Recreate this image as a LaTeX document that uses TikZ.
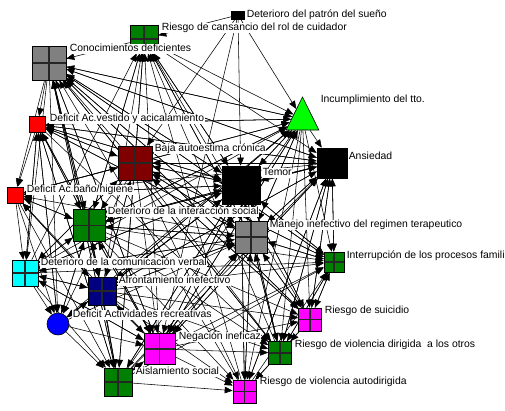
\documentclass[tikz,border=0pt]{standalone}
\usepackage{fontspec}
\setmainfont{Liberation Sans}
\usetikzlibrary{arrows.meta,shapes.geometric}
\pgfdeclarelayer{bg}
\pgfdeclarelayer{edges}
\pgfsetlayers{bg,edges,main}
\definecolor{pgray}{HTML}{808080}
\definecolor{pgreen}{HTML}{008000}
\definecolor{pdred}{HTML}{800000}
\definecolor{pred}{HTML}{FF0000}
\definecolor{plime}{HTML}{00FF00}
\definecolor{pcyan}{HTML}{00FFFF}
\definecolor{pnavy}{HTML}{000080}
\definecolor{pblue}{HTML}{0000FF}
\definecolor{pmag}{HTML}{FF00FF}
\begin{document}
\begin{tikzpicture}[x=1pt,y=-1pt,font=\fontsize{10.4}{12}\selectfont,
  sq/.style={rectangle,draw=black,line width=0.6pt,inner sep=0pt,minimum size=#1},
  quad/.style={path picture={\draw[line width=1.1pt,black!85]
     (path picture bounding box.north)--(path picture bounding box.south)
     (path picture bounding box.west)--(path picture bounding box.east);}},
  lbl/.style={anchor=west,fill=white,inner sep=0.6pt,text height=7.5pt,text depth=2pt},
  arc/.style={-{Triangle[length=8pt,width=6.5pt]},line width=0.55pt}]
\useasboundingbox (0,0) rectangle (505,410);
\begin{pgfonlayer}{bg}
\fill[white] (0,0) rectangle (505,410);
\end{pgfonlayer}
% nodes
\node[rectangle,draw=black,fill=black,minimum width=13pt,minimum height=8pt,inner sep=0pt] (a) at (238,15) {};
\node[sq=28pt,quad,fill=pgreen] (b) at (144,39) {};
\node[sq=34pt,quad,fill=pgray] (c) at (49,63) {};
\node[sq=16pt,fill=pred] (d) at (37.5,124.5) {};
\node[sq=34pt,quad,fill=pdred] (e) at (135,163) {};
\node[sq=16pt,fill=pred] (f) at (15,195) {};
\node[sq=38pt,fill=black] (g) at (241,185) {};
\begin{scope}[shift={(302.5,119)}]
\node[regular polygon,regular polygon sides=3,minimum size=44pt,inner sep=0pt,draw=black,line width=0.6pt,fill=plime,xscale=0.86,transform shape] (h) at (0,0) {};
\end{scope}
\node[sq=30pt,fill=black] (i) at (332,163) {};
\node[sq=32pt,quad,fill=pgreen] (j) at (89,225.5) {};
\node[sq=32pt,quad,fill=pgray] (k) at (251,237) {};
\node[sq=20pt,quad,fill=pgreen] (l) at (334,262) {};
\node[sq=26pt,quad,fill=pcyan] (m) at (25,273) {};
\node[sq=28pt,quad,fill=pnavy] (n) at (102,291) {};
\node[circle,draw=black,line width=0.6pt,fill=pblue,minimum size=22pt,inner sep=0pt] (o) at (58,324) {};
\node[sq=31pt,quad,fill=pmag] (p) at (159.5,349) {};
\node[sq=23pt,quad,fill=pmag] (q) at (310,319.5) {};
\node[sq=23pt,quad,fill=pgreen] (r) at (280,353) {};
\node[sq=28pt,quad,fill=pgreen] (s) at (118,382) {};
\node[sq=23pt,quad,fill=pmag] (t) at (244.5,391.5) {};
% edges
\begin{pgfonlayer}{edges}
\foreach \t/\srcs in {
  b/{a,e,g,j,k,n,p,q,r,s,t,m},
  c/{b,e,g,h,i,j,k,l,n,p,q,r,t,s},
  d/{c,e,g,h,i,j,k,m,o,p,s},
  e/{a,d,g,i,k,l,m,n,q,f},
  f/{c,d,e,g,j,k,n,p,i},
  g/{a,b,c,d,e,f,h,i,j,k,l,m,n,o,p,q,r,s,t},
  h/{a,b,c,d,e,f,g,j,k,m,n,o,p,s},
  i/{h,b,c,d,e,g,j,k,l,n,p,q,r,t,s},
  j/{c,d,f,e,g,h,i,k,m,n,o,p,s,b},
  k/{b,c,d,e,g,h,i,j,l,m,n,o,p,q,r,s,t},
  l/{c,e,g,h,i,j,k,m,n,p,q,r,s,t},
  m/{c,d,f,e,g,j,n,k,p},
  n/{c,e,g,h,i,j,k,m,o,p,f},
  o/{m,d,f,j,n,c,e,g},
  p/{a,e,g,h,i,j,k,m,n,o,c,d,s},
  q/{g,h,i,k,l,e,j,n,p,c},
  r/{g,h,i,k,l,q,e,j,n,p,c,d},
  s/{o,m,j,n,p,e,g,d,f,c},
  t/{p,s,r,k,g,i,h,n,j,e,q}}{
  \foreach \s in \srcs {\draw[arc] (\s) -- (\t);}
}
\end{pgfonlayer}
% labels
\node[lbl] (la) at (246,15) {Deterioro del patrón del sueño};
\node[lbl] (lb) at (161,28) {Riesgo de cansancio del rol de cuidador};
\node[lbl] (lc) at (69,49) {Conocimientos deficientes};
\node[lbl] (ld) at (49,119) {Deficit Ac.vestido y acicalamiento};
\node[lbl] (le) at (154,149) {Baja autoestima crónica};
\node[lbl] (lf) at (26,190) {Deficit Ac.baño/higiene};
\node[lbl] (lg) at (262,173) {Temor};
\node[lbl] (lh) at (320,100) {Incumplimiento del tto.};
\node[lbl] (li) at (348,157) {Ansiedad};
\node[lbl] (lj) at (107,212) {Deterioro de la interacción social};
\node[lbl] (lk) at (269,225) {Manejo inefectivo del regimen terapeutico};
\node[lbl] (ll) at (346,256) {Interrupción de los procesos famili};
\node[lbl] (lm) at (40,263) {Deterioro de la comunicación verbal};
\node[lbl] (ln) at (118,281) {Afrontamiento inefectivo};
\node[lbl] (lo) at (72,315) {Deficit Actividades recreativas};
\node[lbl] (lp) at (178,337) {Negación ineficaz};
\node[lbl] (lq) at (324,311) {Riesgo de suicidio};
\node[lbl] (lr) at (294,345) {Riesgo de violencia dirigida \ a los otros};
\node[lbl] (ls) at (135,372) {Aislamiento social};
\node[lbl] (lt) at (259,382) {Riesgo de violencia autodirigida};
\end{tikzpicture}
\end{document}
